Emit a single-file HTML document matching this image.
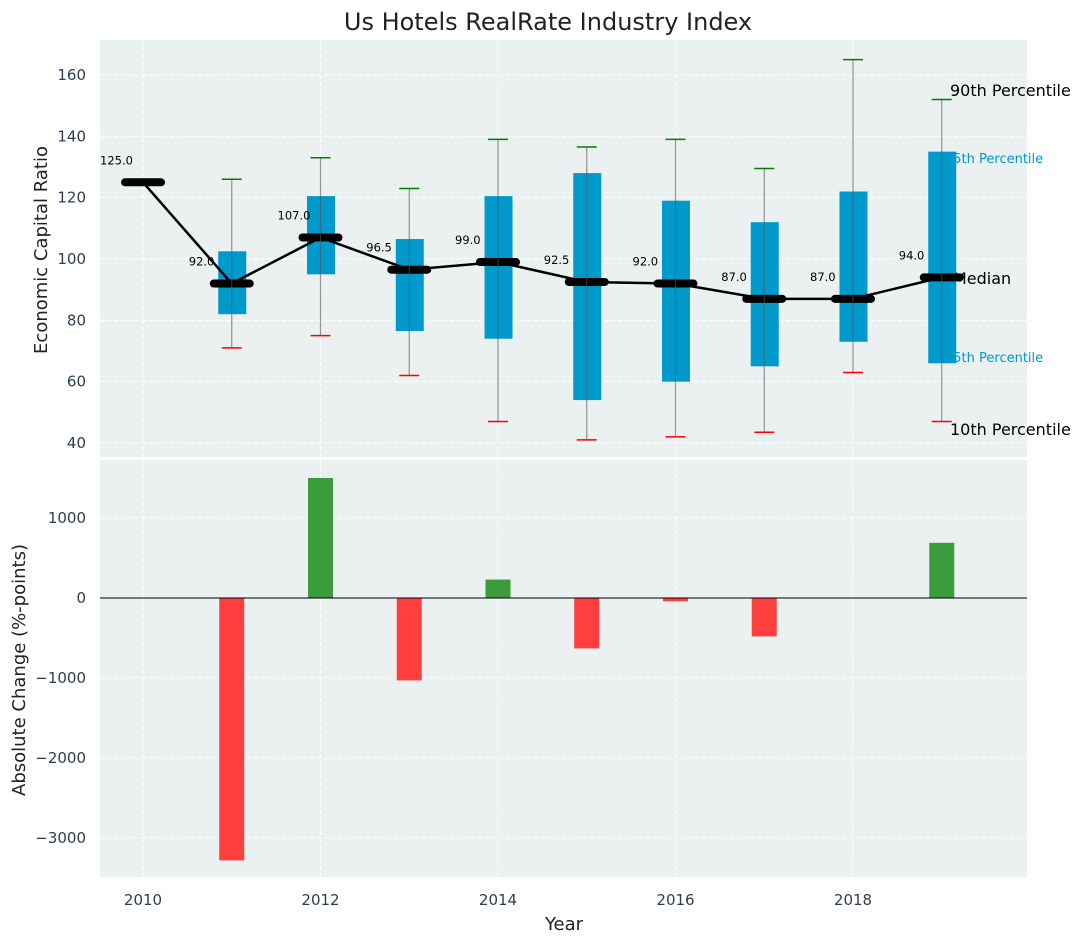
<!DOCTYPE html>
<html><head><meta charset="utf-8"><style>
body{margin:0;background:#fff;font-family:"Liberation Sans","DejaVu Sans",sans-serif}
svg text{font-family:"DejaVu Sans","Liberation Sans",sans-serif}
</style></head><body>
<svg id="c" width="1085" height="942" xmlns="http://www.w3.org/2000/svg"></svg>
<script>
const years=[2010,2011,2012,2013,2014,2015,2016,2017,2018,2019];
const medians=[125,92,107,96.5,99,92.5,92,87,87,94];
const q1=[null,82,95,76.5,74,54,60,65,73,66];
const q3=[null,102.5,120.5,106.5,120.5,128,119,112,122,135];
const p10=[null,71,75,62,47,41,42,43.5,63,47];
const p90=[null,126,133,123,139,136.5,139,129.5,165,152];
const changes=[0,-3280,1500,-1030,230,-630,-40,-480,0,690];
const topTicks=[40,60,80,100,120,140,160];
const botTicks=[-3000,-2000,-1000,0,1000];
const xTicks=[2010,2012,2014,2016,2018];

const NS="http://www.w3.org/2000/svg";
const svg=document.getElementById('c');
function mk(tag,attrs,parent,txt){const e=document.createElementNS(NS,tag);for(const k in attrs)e.setAttribute(k,attrs[k]);if(txt!==undefined)e.textContent=txt;(parent||svg).appendChild(e);return e;}
const L=100,R=1027,T1=40,B1=457,T2=460,B2=877;
const X=v=>143+(v-2010)*88.75;
const Y1=v=>443-(v-40)*3.067;
const Y2=v=>598-v*0.08;

let e=mk('rect',{x:L,y:T1,width:R-L,height:B1-T1,fill:'#ebf0f0'});

e=mk('rect',{x:L,y:T2,width:R-L,height:B2-T2,fill:'#ebf0f0'});


xTicks.forEach(t=>{
  mk('line',{x1:X(t),x2:X(t),y1:T1,y2:B1,stroke:'#fff','stroke-dasharray':'4,3'});
  mk('line',{x1:X(t),x2:X(t),y1:T2,y2:B2,stroke:'#fff','stroke-dasharray':'4,3'});
  e=mk('text',{x:X(t),y:905,'text-anchor':'middle','font-size':15,fill:'#2e3e50'},null,t);
  
});
topTicks.forEach(t=>{
  mk('line',{x1:L,x2:R,y1:Y1(t),y2:Y1(t),stroke:'#fff','stroke-dasharray':'4,3'});
  e=mk('text',{x:86,y:Y1(t)+5,'text-anchor':'end','font-size':15,fill:'#2e3e50'},null,t);
  
});
botTicks.forEach(t=>{
  mk('line',{x1:L,x2:R,y1:Y2(t),y2:Y2(t),stroke:'#fff','stroke-dasharray':'4,3'});
  e=mk('text',{x:86,y:Y2(t)+5,'text-anchor':'end','font-size':15,fill:'#2e3e50'},null,(t<0?'\u2212'+(-t):t));
  
});

const lbl=[['90th Percentile',96,'#000',16,950],['75th Percentile',163,'#0099cc',13,945],['Median',284,'#000',16,953],['25th Percentile',362,'#0099cc',13,945],['10th Percentile',435,'#000',16,950]];
lbl.forEach(l=>{e=mk('text',{x:l[4],y:l[1],'font-size':l[3],fill:l[2]},null,l[0]);
  });

years.forEach((y,i)=>{
  if(q1[i]===null)return;
  e=mk('rect',{x:X(y)-13.5,y:Y1(q3[i]),width:28,height:Y1(q1[i])-Y1(q3[i]),fill:'#0099cc'});
  
});
let d='';years.forEach((y,i)=>{d+=(i?'L':'M')+X(y)+','+Y1(medians[i]);});
e=mk('path',{d:d,fill:'none',stroke:'#000','stroke-width':2.5});

years.forEach((y,i)=>{
  e=mk('line',{x1:X(y)-18,x2:X(y)+18,y1:Y1(medians[i]),y2:Y1(medians[i]),stroke:'#000','stroke-width':8,'stroke-linecap':'round'});
  
  e=mk('text',{x:X(y)-43,y:Y1(medians[i])-18,'font-size':11.5,fill:'#000'},null,medians[i].toFixed(1));
  
  if(q1[i]===null)return;
  e=mk('line',{x1:X(y),x2:X(y),y1:Y1(p90[i]),y2:Y1(p10[i]),stroke:'#555','stroke-opacity':0.6,'stroke-width':1.2});
  
  e=mk('line',{x1:X(y)-10,x2:X(y)+10,y1:Y1(p90[i]),y2:Y1(p90[i]),stroke:'#008000','stroke-width':1.5});
  
  e=mk('line',{x1:X(y)-10,x2:X(y)+10,y1:Y1(p10[i]),y2:Y1(p10[i]),stroke:'#ff0000','stroke-width':1.5});
  
});

years.forEach((y,i)=>{
  const v=changes[i];if(v===0)return;
  e=mk('rect',{x:X(y)-12.5,y:Math.min(Y2(v),Y2(0)),width:25,height:Math.abs(Y2(v)-Y2(0)),fill:v>0?'#3a9c3a':'#ff3e3e'});
  
});
e=mk('line',{x1:L,x2:R,y1:Y2(0),y2:Y2(0),stroke:'#000','stroke-width':1});


e=mk('text',{x:548,y:30,'text-anchor':'middle','font-size':24,fill:'#222'},null,'Us Hotels RealRate Industry Index');

e=mk('text',{x:564,y:930,'text-anchor':'middle','font-size':18,fill:'#222'},null,'Year');

e=mk('text',{x:47,y:250,'text-anchor':'middle','font-size':18,fill:'#222',transform:'rotate(-90 47 250)'},null,'Economic Capital Ratio');

e=mk('text',{x:25,y:670,'text-anchor':'middle','font-size':18,fill:'#222',transform:'rotate(-90 25 670)'},null,'Absolute Change (%-points)');

</script>
</body></html>
